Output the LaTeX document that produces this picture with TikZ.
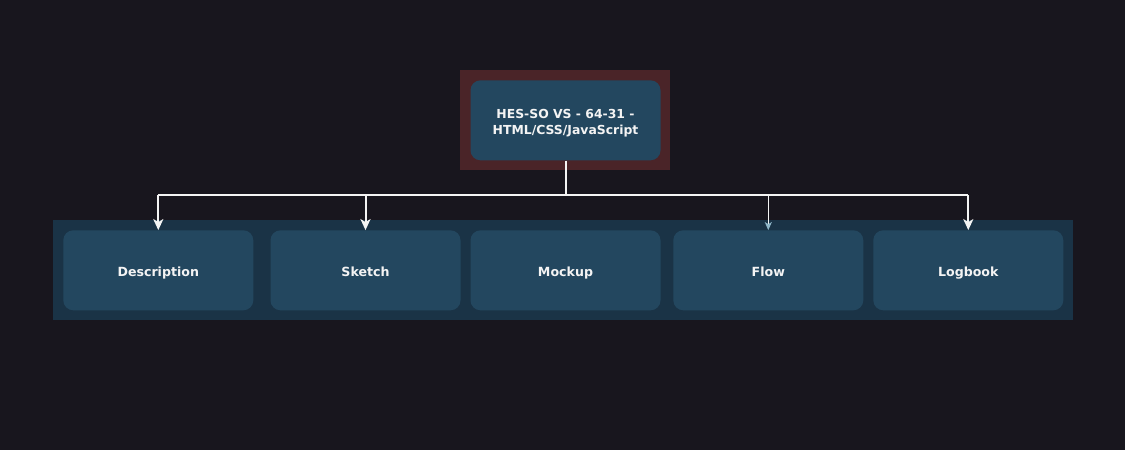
\documentclass[tikz,border=0pt]{standalone}
\usepackage{fontspec}
\setmainfont{DejaVu Sans}
\usetikzlibrary{arrows.meta}
\definecolor{bg}{HTML}{18161E}
\definecolor{rootframe}{HTML}{4A2428}
\definecolor{boxfill}{HTML}{23475F}
\definecolor{band}{HTML}{1A3346}
\definecolor{linec}{HTML}{F4F4F4}
\definecolor{flowtip}{HTML}{8FB6C8}
\tikzset{
  frame/.style={fill=#1, draw=none, inner sep=0pt},
  card/.style={fill=boxfill, draw=none, rounded corners=10pt, minimum width=190pt, minimum height=80pt, inner sep=0pt, text=linec, font=\bfseries\fontsize{12.6}{16}\selectfont, align=center},
  leaf/.style={card, text height=12pt, text depth=0.5pt},
  conn/.style={draw=linec, line width=2pt},
  arr/.style={conn, -{Stealth[length=11pt,width=10pt,inset=3pt]}},
  thinarr/.style={draw=linec, line width=1pt, -{Stealth[length=8pt,width=7pt,inset=2pt,color=flowtip]}}
}
\begin{document}
\begin{tikzpicture}[x=1pt,y=-1pt]
\fill[bg] (0,0) rectangle (1125,450);
\useasboundingbox (0,0) rectangle (1125,450);
% root frame and band
\node[frame=rootframe, minimum width=210pt, minimum height=100pt] (rootframe) at (565,120) {};
\node[frame=band, minimum width=1020pt, minimum height=100pt] (bandbox) at (563,270) {};
% root
\node[card, font=\bfseries\fontsize{12.4}{16}\selectfont] (root) at (565.5,120.3) {\rule{0pt}{15.5pt}HES-SO VS - 64-31 -\\HTML/CSS/JavaScript};
% children
\node[leaf] (desc) at (158.3,270.3) {Description};
\node[leaf] (sketch) at (365.5,270.3) {Sketch};
\node[leaf] (mock) at (565.5,270.3) {Mockup};
\node[leaf] (flow) at (768.3,270.3) {Flow};
\node[leaf] (log) at (968.3,270.3) {Logbook};
% connectors
\coordinate (hub) at (565.5,195);
\coordinate (hl) at (158.3,195);
\coordinate (hr) at (968.3,195);
\draw[conn] (root.south) -- (hub);
\draw[conn] (hl) -- (hr);
\draw[arr] (hl) -- (desc.north);
\draw[arr] (sketch.north |- hub) -- (sketch.north);
\draw[thinarr] (flow.north |- hub) -- (flow.north);
\draw[arr] (hr) -- (log.north);
\end{tikzpicture}
\end{document}
